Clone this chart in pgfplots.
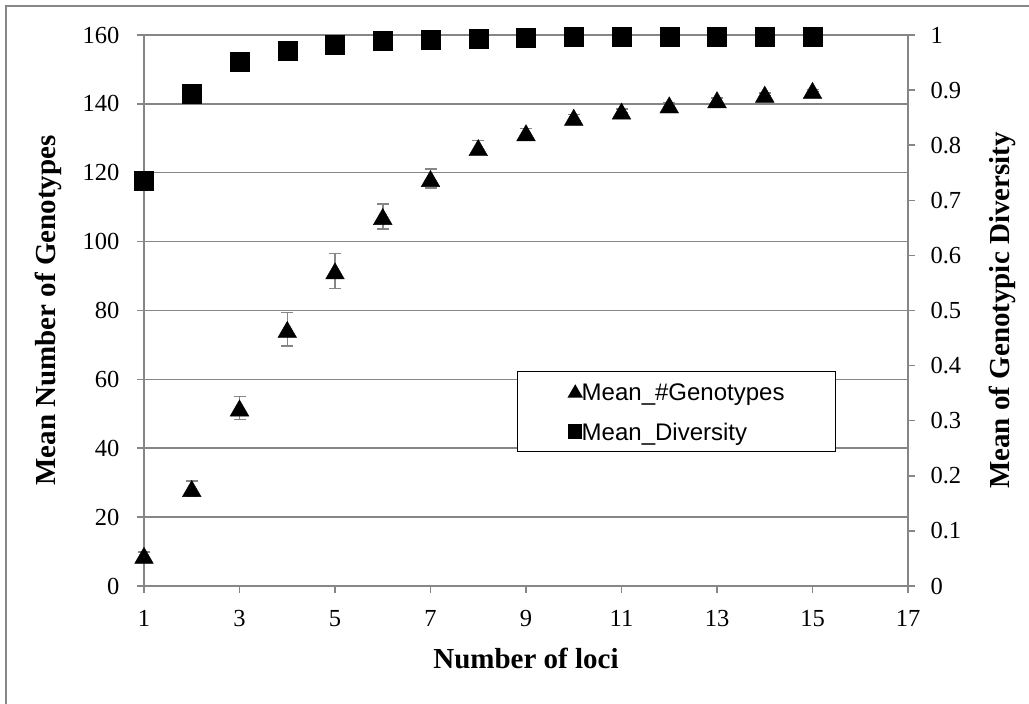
\documentclass[border=0pt]{standalone}
\usepackage{pgfplots}
\pgfplotsset{compat=1.18}
\usepackage{pgfplotstable}
\usepackage{fontspec}
\setmainfont{Liberation Serif}
\newfontfamily\arialfont{Liberation Sans}
\definecolor{axgray}{RGB}{134,134,134}
\newcommand\tickfont{\fontsize{24.5}{28}\selectfont}

\pgfplotstableread{
x   y      err
1   8.9    1.0
2   28.3   2.2
3   51.7   3.3
4   74.5   4.85
5   91.5   5.1
6   107.3  3.6
7   118.3  2.75
8   127.3  2.0
9   131.6  1.2
10  136.1  0.8
11  137.9  0.6
12  139.7  0.5
13  141.2  0.5
14  142.8  0.4
15  143.9  0.3
}\genotypes

\pgfplotstableread{
x   y
1   0.736
2   0.894
3   0.952
4   0.972
5   0.983
6   0.989
7   0.992
8   0.994
9   0.995
10  0.996
11  0.996
12  0.996
13  0.996
14  0.996
15  0.996
}\diversity

\pgfplotsset{
  common/.style={
    at={(144pt,118pt)}, anchor=south west,
    scale only axis, width=764pt, height=551pt,
    xmin=1, xmax=17, clip=false,
    axis line style={axgray, line width=1.5pt},
    tick style={axgray, line width=1.5pt},
    tick align=outside, major tick length=7pt,
    /pgf/number format/assume math mode=true,
    tick label style={font=\tickfont, text=black},
    label style={font=\bfseries\fontsize{29}{33}\selectfont},
  },
  dotlegend/.style={legend image code/.code={\draw[##1] plot coordinates {(6.5pt,0pt)};}},
}

\begin{document}
\begin{tikzpicture}[x=1pt,y=1pt]
\useasboundingbox (0,0) rectangle (1029,704);
\draw[axgray, line width=1.5pt] (6,-10) -- (6,698) -- (1040,698);
\begin{axis}[common,
  ymin=0, ymax=160,
  xtick={1,3,5,7,9,11,13,15,17}, ytick={0,20,40,60,80,100,120,140,160},
  xticklabels={1,3,5,7,9,11,13,15,17},
  yticklabels={0,20,40,60,80,100,120,140,160},
  xtick pos=bottom, ytick pos=left,
  ymajorgrids, grid style={axgray, line width=1.5pt},
  xticklabel style={yshift=-13.5pt},
  yticklabel style={xshift=-14pt},
  xlabel={Number of loci},
  ylabel={Mean Number of Genotypes},
  xlabel style={at={(axis description cs:0.5,-0.1307)}, anchor=center},
  ylabel style={at={(axis description cs:-0.1257,0.5)}, anchor=center, rotate=0},
]
\addplot[only marks, mark=triangle*, mark size=10.8pt, black,
  mark options={yshift=-2.7pt},
  error bars/.cd, y dir=both, y explicit,
  error bar style={draw=axgray, color=axgray, line width=1.5pt},
  error mark options={rotate=90, draw=axgray, color=axgray, line width=1.5pt, mark size=6pt, yshift=0pt}]
  table[x=x, y=y, y error=err] {\genotypes};
\end{axis}
\begin{axis}[common,
  ymin=0, ymax=1,
  axis x line=none, axis y line*=right,
  ytick={0,0.1,0.2,0.3,0.4,0.5,0.6,0.7,0.8,0.9,1},
  yticklabels={0,0.1,0.2,0.3,0.4,0.5,0.6,0.7,0.8,0.9,1},
  yticklabel style={xshift=12pt},
  ylabel={Mean of Genotypic Diversity},
  ylabel style={at={(axis description cs:1.123,0.5)}, anchor=center, rotate=0},
  legend style={at={(axis description cs:0.4882,0.3902)}, anchor=north west,
    draw=black, line width=1.5pt, fill=white,
    inner xsep=51pt, inner ysep=6pt, row sep=12pt,
    font=\arialfont\fontsize{24}{27}\selectfont,
    nodes={inner sep=0pt, text height=23pt, text depth=5pt},
    /tikz/every even column/.style={column sep=3pt}},
  legend cell align=left,
  dotlegend,
]
\addlegendimage{only marks, mark=triangle*, mark size=7.5pt, black, mark options={yshift=-1.5pt}}
\addlegendentry{Mean\_\#Genotypes}
\addlegendimage{only marks, mark=square*, mark size=6.5pt, black}
\addlegendentry{Mean\_Diversity}
\addplot[only marks, mark=square*, mark size=9.5pt, black, forget plot]
  table[x=x, y=y] {\diversity};
\end{axis}
\end{tikzpicture}
\end{document}
